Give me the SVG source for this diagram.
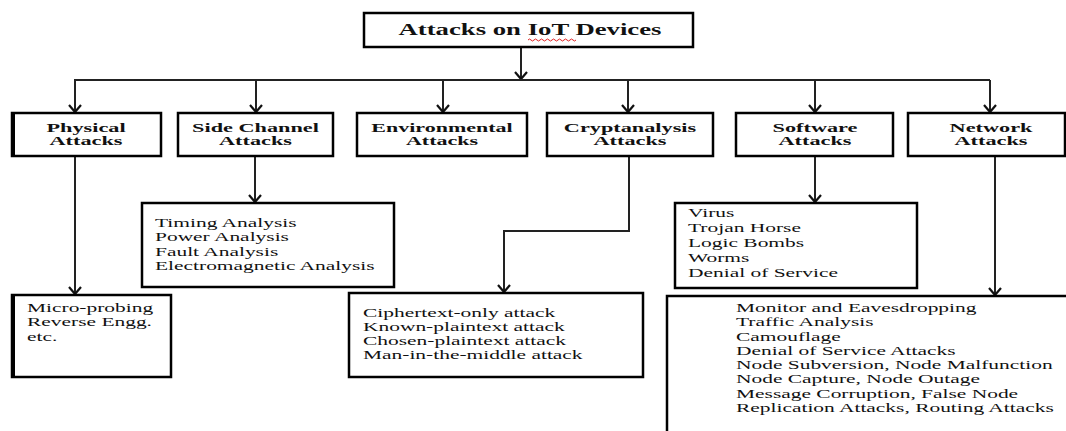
<svg xmlns="http://www.w3.org/2000/svg" width="1066" height="431" viewBox="0 0 1066 431">
  <defs>
    <marker id="arrow" viewBox="-9 -8 11 16" markerWidth="11" markerHeight="16" refX="0" refY="0" orient="auto" markerUnits="userSpaceOnUse" overflow="visible">
      <path d="M -7 -6 L 0 0 L -7 6" fill="none" stroke="#111" stroke-width="2.2"/>
    </marker>
    <style>
      .box { fill: #fff; stroke: #000; stroke-width: 2.5; }
      .edge { fill: none; stroke: #000; stroke-width: 4; }
      .wire { fill: none; stroke: #222; stroke-width: 2; }
      .arr { marker-end: url(#arrow); }
      .title { font-family: "Liberation Serif", "Times New Roman", serif; font-weight: bold; font-size: 16.5px; fill: #111; text-anchor: middle; }
      .head { font-family: "Liberation Serif", "Times New Roman", serif; font-weight: bold; font-size: 13.5px; fill: #111; text-anchor: middle; }
      .item { font-family: "Liberation Serif", "Times New Roman", serif; font-size: 13px; fill: #111; }
    </style>
  </defs>

  <rect width="1066" height="431" fill="#fff"/>

  <!-- connectors -->
  <g id="connectors">
    <path class="wire arr" d="M 521 47 L 521 79"/>
    <path class="wire" d="M 74 80 L 990 80"/>
    <path class="wire arr" d="M 75 80 L 75 112"/>
    <path class="wire arr" d="M 256 80 L 256 112"/>
    <path class="wire arr" d="M 443 80 L 443 112"/>
    <path class="wire arr" d="M 628 80 L 628 112"/>
    <path class="wire arr" d="M 815 80 L 815 112"/>
    <path class="wire arr" d="M 990 80 L 990 112"/>
    <path class="wire arr" d="M 75 156 L 75 294"/>
    <path class="wire arr" d="M 255 156 L 255 202"/>
    <path class="wire arr" d="M 629 156 L 629 231 L 504 231 L 504 292"/>
    <path class="wire arr" d="M 815 156 L 815 202"/>
    <path class="wire arr" d="M 995 156 L 995 295"/>
  </g>

  <!-- root -->
  <g id="root">
    <rect class="box" x="364" y="13" width="329" height="34"/>
    <g transform="translate(530 35) scale(1.62 1)">
      <text class="title" x="0" y="0">Attacks on IoT Devices</text>
    </g>
    <path d="M 528 40 q 1.5 -2 3 0 t 3 0 t 3 0 t 3 0 t 3 0 t 3 0 t 3 0 t 3 0 t 3 0 t 3 0 t 3 0 t 3 0 t 3 0 t 3 0 t 3 0 t 3 0" fill="none" stroke="#e02020" stroke-width="1"/>
  </g>

  <!-- categories -->
  <g id="physical">
    <rect class="box" x="12" y="113" width="149" height="43"/>
    <line class="edge" x1="13" y1="112" x2="13" y2="157"/>
    <g transform="translate(86 0) scale(1.65 1)">
      <text class="head" x="0" y="132">Physical</text>
      <text class="head" x="0" y="145">Attacks</text>
    </g>
  </g>

  <g id="side-channel">
    <rect class="box" x="178" y="113" width="155" height="43"/>
    <g transform="translate(255.5 0) scale(1.65 1)">
      <text class="head" x="0" y="132">Side Channel</text>
      <text class="head" x="0" y="145">Attacks</text>
    </g>
  </g>

  <g id="environmental">
    <rect class="box" x="357" y="113" width="170" height="43"/>
    <g transform="translate(442 0) scale(1.63 1)">
      <text class="head" x="0" y="132">Environmental</text>
      <text class="head" x="0" y="145">Attacks</text>
    </g>
  </g>

  <g id="cryptanalysis">
    <rect class="box" x="547" y="113" width="166" height="43"/>
    <g transform="translate(630 0) scale(1.65 1)">
      <text class="head" x="0" y="132">Cryptanalysis</text>
      <text class="head" x="0" y="145">Attacks</text>
    </g>
  </g>

  <g id="software">
    <rect class="box" x="736" y="113" width="157" height="43"/>
    <g transform="translate(815 0) scale(1.65 1)">
      <text class="head" x="0" y="132">Software</text>
      <text class="head" x="0" y="145">Attacks</text>
    </g>
  </g>

  <g id="network">
    <rect class="box" x="908" y="113" width="157" height="43"/>
    <g transform="translate(991 0) scale(1.65 1)">
      <text class="head" x="0" y="132">Network</text>
      <text class="head" x="0" y="145">Attacks</text>
    </g>
  </g>

  <!-- attack lists -->
  <g id="physical-list">
    <rect class="box" x="12" y="295" width="159" height="82"/>
    <line class="edge" x1="13" y1="294" x2="13" y2="378"/>
    <g transform="translate(27 0) scale(1.65 1)">
      <text class="item" x="0" y="312">Micro-probing</text>
      <text class="item" x="0" y="326.5">Reverse  Engg.</text>
      <text class="item" x="0" y="341">etc.</text>
    </g>
  </g>

  <g id="side-channel-list">
    <rect class="box" x="142" y="203" width="252" height="84"/>
    <g transform="translate(155 0) scale(1.65 1)">
      <text class="item" x="0" y="227">Timing Analysis</text>
      <text class="item" x="0" y="241.5">Power Analysis</text>
      <text class="item" x="0" y="256">Fault Analysis</text>
      <text class="item" x="0" y="270.5">Electromagnetic Analysis</text>
    </g>
  </g>

  <g id="cryptanalysis-list">
    <rect class="box" x="349" y="293" width="294" height="84"/>
    <g transform="translate(363 0) scale(1.65 1)">
      <text class="item" x="0" y="317">Ciphertext-only attack</text>
      <text class="item" x="0" y="331">Known-plaintext attack</text>
      <text class="item" x="0" y="345">Chosen-plaintext attack</text>
      <text class="item" x="0" y="359">Man-in-the-middle attack</text>
    </g>
  </g>

  <g id="software-list">
    <rect class="box" x="675" y="203" width="242" height="85"/>
    <g transform="translate(688 0) scale(1.65 1)">
      <text class="item" x="0" y="217.5">Virus</text>
      <text class="item" x="0" y="232.5">Trojan Horse</text>
      <text class="item" x="0" y="247.5">Logic Bombs</text>
      <text class="item" x="0" y="262.5">Worms</text>
      <text class="item" x="0" y="277.5">Denial of Service</text>
    </g>
  </g>

  <g id="network-list">
    <rect class="box" x="667" y="296" width="420" height="160"/>
    <g transform="translate(736 0) scale(1.65 1)">
      <text class="item" x="0" y="312">Monitor and Eavesdropping</text>
      <text class="item" x="0" y="326.3">Traffic Analysis</text>
      <text class="item" x="0" y="340.6">Camouflage</text>
      <text class="item" x="0" y="354.9">Denial of Service Attacks</text>
      <text class="item" x="0" y="369.2">Node Subversion,  Node Malfunction</text>
      <text class="item" x="0" y="383.5">Node Capture,  Node Outage</text>
      <text class="item" x="0" y="397.8">Message Corruption,  False Node</text>
      <text class="item" x="0" y="412.1">Replication Attacks,  Routing Attacks</text>
    </g>
  </g>
</svg>
